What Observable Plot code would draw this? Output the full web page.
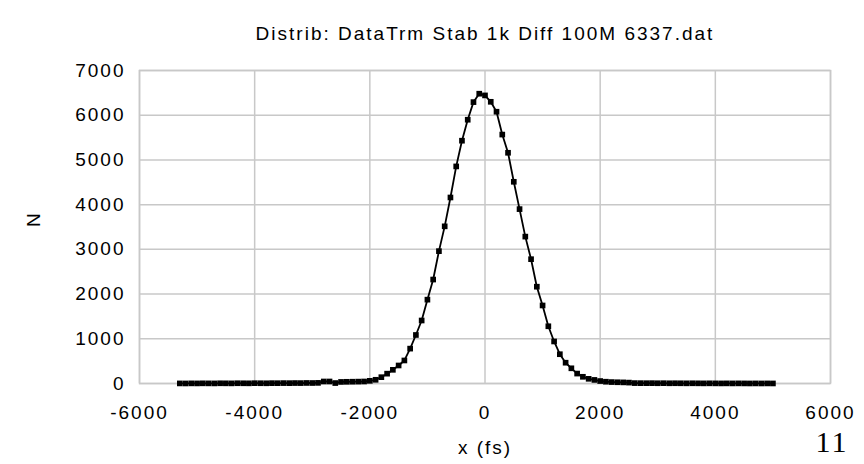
<!DOCTYPE html>
<html><head><meta charset="utf-8">
<script src="https://cdn.jsdelivr.net/npm/d3@7"></script>
<script src="https://cdn.jsdelivr.net/npm/@observablehq/plot@0.6"></script>
<style>body{margin:0;background:#fff} svg{display:block}</style>
</head><body><div id="chart"></div>
<script>
const title = "Distrib: DataTrm Stab 1k Diff 100M 6337.dat";
const xLabel = "x (fs)";
const yLabel = "N";
const pageNumber = "11";
const xTicks = [-6000, -4000, -2000, 0, 2000, 4000, 6000];
const yTicks = [0, 1000, 2000, 3000, 4000, 5000, 6000, 7000];
const binX = [-5300,-5200,-5100,-5000,-4900,-4800,-4700,-4600,-4500,-4400,-4300,-4200,-4100,-4000,
  -3900,-3800,-3700,-3600,-3500,-3400,-3300,-3200,-3100,-3000,-2900,-2800,-2700,-2600,-2500,-2400,
  -2300,-2200,-2100,-2000,-1900,-1800,-1700,-1600,-1500,-1400,-1300,-1200,-1100,-1000,-900,-800,
  -700,-600,-500,-400,-300,-200,-100,0,100,200,300,400,500,600,700,800,900,1000,1100,1200,1300,
  1400,1500,1600,1700,1800,1900,2000,2100,2200,2300,2400,2500,2600,2700,2800,2900,3000,3100,3200,
  3300,3400,3500,3600,3700,3800,3900,4000,4100,4200,4300,4400,4500,4600,4700,4800,4900,5000];
const counts = [2,1,3,2,4,3,2,5,4,3,6,5,4,7,6,5,8,7,9,8,10,9,12,11,14,45,45,10,35,38,
  40,42,45,60,83,141,220,306,403,515,780,1085,1409,1875,2325,2960,
  3515,4160,4855,5430,5899,6293,6481,6443,6300,6078,5567,5160,4511,3900,3285,2780,2165,1745,1280,940,655,
  465,340,222,150,105,80,55,40,32,28,25,20,9,8,7,8,6,7,5,
  6,5,4,5,4,3,4,3,2,3,2,3,2,1,2,1,2,1];
const data = binX.map((x, i) => ({x, n: counts[i]}));
const fmt = d => String(d);
const grid = "#c8c8c8";
const plot = Plot.plot({
  width: 864, height: 464,
  marginLeft: 139, marginRight: 34, marginTop: 70, marginBottom: 81,
  style: {fontFamily: "'Liberation Sans', Arial, sans-serif", fontSize: "19px", background: "#fff", color: "#000", overflow: "visible"},
  x: {domain: [-6000, 6000], label: null},
  y: {domain: [0, 7000], label: null},
  marks: [
    Plot.gridX(xTicks, {stroke: grid, strokeOpacity: 1, strokeWidth: 1.5}),
    Plot.gridY(yTicks, {stroke: grid, strokeOpacity: 1, strokeWidth: 1.5}),
    Plot.frame({stroke: grid, strokeWidth: 1.5}),
    Plot.axisX({ticks: xTicks, tickSize: 0, tickPadding: 22, tickFormat: fmt, label: null}),
    Plot.axisY({ticks: yTicks, tickSize: 0, tickPadding: 14, tickFormat: fmt, label: null}),
    Plot.line(data, {x: "x", y: "n", stroke: "#000", strokeWidth: 1.8}),
    Plot.dot(data, {x: "x", y: "n", symbol: "square", r: 3.2, fill: "#000", stroke: null}),
    Plot.text([title], {frameAnchor: "top", dy: -44, fontSize: 19}),
    Plot.text([xLabel], {frameAnchor: "bottom", dy: 70}),
    Plot.text([yLabel], {frameAnchor: "left", dx: -106, rotate: -90}),
    Plot.text([pageNumber], {frameAnchor: "bottom-right", dx: 18, dy: 68, textAnchor: "end", fontFamily: "'Liberation Serif', 'Times New Roman', serif", fontSize: 30})
  ]
});
d3.select(plot).selectAll("g[aria-label='x-axis tick label'] text, g[aria-label='y-axis tick label'] text").attr("letter-spacing", "2px");
d3.select(plot).selectAll("g[aria-label='text'] text").attr("letter-spacing", "2px");
document.getElementById("chart").append(plot);
</script>
</body></html>
